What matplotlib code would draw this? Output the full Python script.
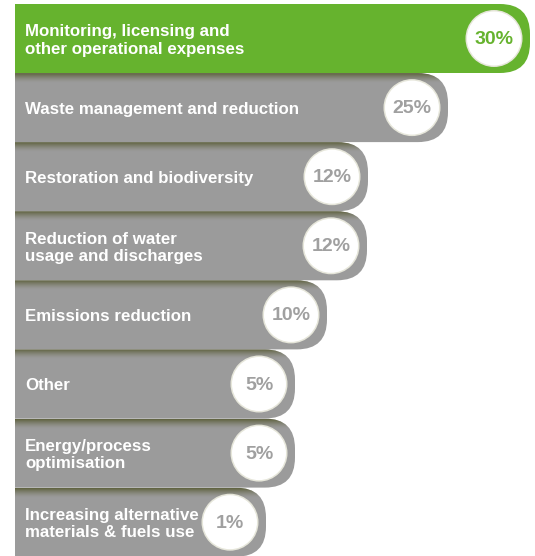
import numpy as np
import matplotlib.pyplot as plt
from matplotlib.patches import FancyBboxPatch, Rectangle, Circle

labels = ["Monitoring, licensing and\nother operational expenses",
          "Waste management and reduction",
          "Restoration and biodiversity",
          "Reduction of water\nusage and discharges",
          "Emissions reduction",
          "Other",
          "Energy/process\noptimisation",
          "Increasing alternative\nmaterials & fuels use"]
values = [30, 25, 12, 12, 10, 5, 5, 1]
# drawn bar lengths (not proportional to the share)
bar_len = [515, 433, 353, 352, 312, 280, 280, 251]

green = "#66b32e"
grey = "#9b9b9b"
pct_grey = "#a0a0a0"

plt.rcParams['font.family'] = ['Liberation Sans', 'DejaVu Sans']

fig = plt.figure(figsize=(5.35, 5.56), dpi=100)
ax = fig.add_axes([0, 0, 1, 1])
ax.set_xlim(0, 535)
ax.set_ylim(556, 0)
ax.axis("off")

left = 15
pitch = 69.1
h = 69
r = 30

# shadow gradient (dark olive fading down)
grad = np.zeros((20, 1, 4))
grad[:, 0, 0] = 0.36
grad[:, 0, 1] = 0.37
grad[:, 0, 2] = 0.22
grad[:, 0, 3] = np.linspace(0.95, 0.0, 20) ** 1.5

for i, (lab, val, ln) in enumerate(zip(labels, values, bar_len)):
    top = 4 + i * pitch
    end = left + ln
    col = green if i == 0 else grey
    bar = FancyBboxPatch((left - 40, top), end - (left - 40), h,
                         boxstyle="round,pad=0,rounding_size=%d" % r,
                         fc=col, ec="none", zorder=2)
    ax.add_patch(bar)
    clip = Rectangle((left, -10), 600, 600, transform=ax.transData)
    bar.set_clip_path(clip)
    if i > 0:
        im = ax.imshow(grad, extent=(left, end, top + 10, top), aspect="auto",
                       zorder=3, interpolation="bilinear")
        im.set_clip_path(bar)
    cx = end - 36
    cy = top + h / 2
    ax.add_patch(Circle((cx, cy), 28.5, fc="#e6e6da", ec="none", zorder=4))
    ax.add_patch(Circle((cx, cy), 27, fc="white", ec="none", zorder=5))
    ax.text(left + 10, cy + 2, lab, color="white", fontsize=12.2, fontweight="bold",
            ha="left", va="center", linespacing=1.2, zorder=6)
    ax.text(cx, cy + 1, "%d%%" % val, color=green if i == 0 else pct_grey,
            fontsize=14, fontweight="bold", ha="center", va="center", zorder=6)

ax.set_xlim(0, 535)
ax.set_ylim(556, 0)
fig.savefig("out.png", dpi=100)
